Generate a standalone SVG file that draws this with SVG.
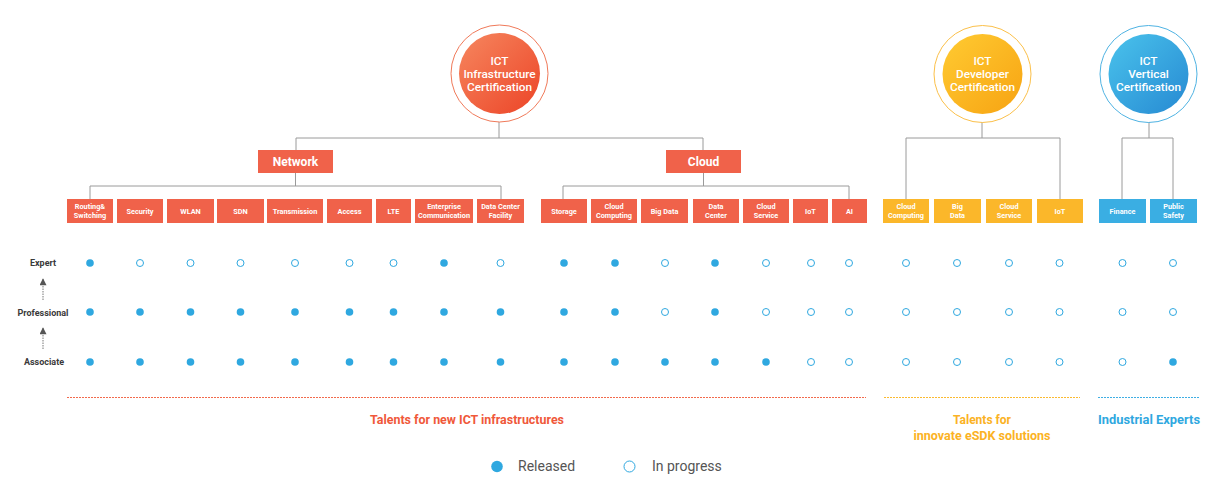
<svg xmlns="http://www.w3.org/2000/svg" width="1212" height="481" viewBox="0 0 1212 481">
<defs>
<linearGradient id="gRed" x1="0" y1="0" x2="1" y2="1"><stop offset="0" stop-color="#F6875F"/><stop offset="1" stop-color="#EC4427"/></linearGradient>
<linearGradient id="gYel" x1="0" y1="0" x2="1" y2="1"><stop offset="0" stop-color="#FFCB32"/><stop offset="1" stop-color="#F7A312"/></linearGradient>
<linearGradient id="gBlu" x1="0" y1="0" x2="1" y2="1"><stop offset="0" stop-color="#4AC3EC"/><stop offset="1" stop-color="#2689D2"/></linearGradient>
<marker id="arr" viewBox="0 0 10 10" refX="9" refY="5" markerWidth="8" markerHeight="7" orient="auto" markerUnits="userSpaceOnUse"><path d="M0,0 L10,5 L0,10 Z" fill="#555"/></marker>
</defs>
<style>
text{font-family:Roboto,"Liberation Sans",sans-serif}
.ct{fill:#fff;font-size:11.8px;font-weight:500;text-anchor:middle}
.bx{fill:#F0624A}
.by{fill:#FBB72A}
.bb{fill:#3AAEE3}
.bt{fill:#fff;font-size:7.3px;font-weight:700;text-anchor:middle}
.gt{fill:#fff;font-size:12px;font-weight:700;text-anchor:middle}
.ln{stroke:#9a9a9a;stroke-width:1;fill:none}
.f{fill:#2FA8E0}
.h{fill:#fff;stroke:#2FA8E0;stroke-width:1}
.rl{fill:#3a3a3a;font-size:9px;font-weight:700;text-anchor:middle}
.lg{fill:#555;font-size:14px}
.dl{stroke-width:1;stroke-dasharray:2 1;fill:none}
</style>
<rect width="1212" height="481" fill="#fff"/>

<g id="connectors" class="ln">
<path d="M499,122 V138 M296,150 V138 H703 V150"/>
<path d="M295.5,173 V186 M90,199 V186 H501 V199"/>
<path d="M703.5,173 V186 M563,199 V186 H849 V199"/>
<path d="M982,122 V138 M906,199 V138 H1060 V199"/>
<path d="M1149,122 V138 M1122,199 V138 H1173 V199"/>
<line x1="43" y1="300" x2="43" y2="279" stroke="#777" stroke-dasharray="1.5 1" marker-end="url(#arr)"/>
<line x1="43" y1="349" x2="43" y2="328" stroke="#777" stroke-dasharray="1.5 1" marker-end="url(#arr)"/>
</g>

<g id="infra">
<circle cx="499.5" cy="73.5" r="48.5" fill="none" stroke="#F07A5A" stroke-width="1"/>
<circle cx="499.5" cy="73.5" r="40.5" fill="url(#gRed)"/>
<text class="ct" x="499.5" y="64.5">ICT</text>
<text class="ct" x="499.5" y="77.5">Infrastructure</text>
<text class="ct" x="499.5" y="90.5">Certification</text>
</g>
<g id="developer">
<circle cx="982.5" cy="74" r="48.5" fill="none" stroke="#FBC04A" stroke-width="1"/>
<circle cx="982.5" cy="74" r="40" fill="url(#gYel)"/>
<text class="ct" x="982.5" y="64.5">ICT</text>
<text class="ct" x="982.5" y="77.5">Developer</text>
<text class="ct" x="982.5" y="90.5">Certification</text>
</g>
<g id="vertical">
<circle cx="1148.5" cy="74" r="48.5" fill="none" stroke="#4FB3E3" stroke-width="1"/>
<circle cx="1148.5" cy="74" r="40" fill="url(#gBlu)"/>
<text class="ct" x="1148.5" y="64.5">ICT</text>
<text class="ct" x="1148.5" y="77.5">Vertical</text>
<text class="ct" x="1148.5" y="90.5">Certification</text>
</g>

<g id="network"><rect class="bx" x="258" y="150" width="75" height="23"/><text class="gt" x="295.5" y="166">Network</text></g>
<g id="cloud"><rect class="bx" x="666" y="150" width="75" height="23"/><text class="gt" x="703.5" y="166">Cloud</text></g>

<g id="n-rs"><rect class="bx" x="67" y="199" width="46" height="24"/><text class="bt" x="90" y="208.5">Routing&amp;</text><text class="bt" x="90" y="217.5">Switching</text></g>
<g id="n-sec"><rect class="bx" x="117" y="199" width="46" height="24"/><text class="bt" x="140" y="213.5">Security</text></g>
<g id="n-wlan"><rect class="bx" x="167" y="199" width="47" height="24"/><text class="bt" x="190.5" y="213.5">WLAN</text></g>
<g id="n-sdn"><rect class="bx" x="217" y="199" width="47" height="24"/><text class="bt" x="240.5" y="213.5">SDN</text></g>
<g id="n-tr"><rect class="bx" x="267" y="199" width="56" height="24"/><text class="bt" x="295" y="213.5">Transmission</text></g>
<g id="n-acc"><rect class="bx" x="327" y="199" width="45" height="24"/><text class="bt" x="349.5" y="213.5">Access</text></g>
<g id="n-lte"><rect class="bx" x="376" y="199" width="35" height="24"/><text class="bt" x="393.5" y="213.5">LTE</text></g>
<g id="n-ent"><rect class="bx" x="415" y="199" width="58" height="24"/><text class="bt" x="444" y="208.5">Enterprise</text><text class="bt" x="444" y="217.5">Communication</text></g>
<g id="n-dcf"><rect class="bx" x="477" y="199" width="47" height="24"/><text class="bt" x="500.5" y="208.5">Data Center</text><text class="bt" x="500.5" y="217.5">Facility</text></g>

<g id="c-sto"><rect class="bx" x="541" y="199" width="46" height="24"/><text class="bt" x="564" y="213.5">Storage</text></g>
<g id="c-cc"><rect class="bx" x="591" y="199" width="46" height="24"/><text class="bt" x="614" y="208.5">Cloud</text><text class="bt" x="614" y="217.5">Computing</text></g>
<g id="c-bd"><rect class="bx" x="641" y="199" width="47" height="24"/><text class="bt" x="664.5" y="213.5">Big Data</text></g>
<g id="c-dc"><rect class="bx" x="693" y="199" width="46" height="24"/><text class="bt" x="716" y="208.5">Data</text><text class="bt" x="716" y="217.5">Center</text></g>
<g id="c-cs"><rect class="bx" x="743" y="199" width="46" height="24"/><text class="bt" x="766" y="208.5">Cloud</text><text class="bt" x="766" y="217.5">Service</text></g>
<g id="c-iot"><rect class="bx" x="793" y="199" width="35" height="24"/><text class="bt" x="810.5" y="213.5">IoT</text></g>
<g id="c-ai"><rect class="bx" x="832" y="199" width="35" height="24"/><text class="bt" x="849.5" y="213.5">AI</text></g>

<g id="d-cc"><rect class="by" x="883" y="199" width="46" height="24"/><text class="bt" x="906" y="208.5">Cloud</text><text class="bt" x="906" y="217.5">Computing</text></g>
<g id="d-bd"><rect class="by" x="934" y="199" width="47" height="24"/><text class="bt" x="957.5" y="208.5">Big</text><text class="bt" x="957.5" y="217.5">Data</text></g>
<g id="d-cs"><rect class="by" x="986" y="199" width="46" height="24"/><text class="bt" x="1009" y="208.5">Cloud</text><text class="bt" x="1009" y="217.5">Service</text></g>
<g id="d-iot"><rect class="by" x="1037" y="199" width="46" height="24"/><text class="bt" x="1060" y="213.5">IoT</text></g>

<g id="v-fin"><rect class="bb" x="1099" y="199" width="47" height="24"/><text class="bt" x="1122.5" y="213.5">Finance</text></g>
<g id="v-ps"><rect class="bb" x="1150" y="199" width="47" height="24"/><text class="bt" x="1173.5" y="208.5">Public</text><text class="bt" x="1173.5" y="217.5">Safety</text></g>

<g id="levels">
<text class="rl" x="43" y="266">Expert</text>
<text class="rl" x="43" y="315.5">Professional</text>
<text class="rl" x="44" y="365">Associate</text>
</g>

<g id="dots">
<circle class="f" cx="90" cy="263" r="3.8"/><circle class="h" cx="140" cy="263" r="3.5"/><circle class="h" cx="190.5" cy="263" r="3.5"/><circle class="h" cx="240.5" cy="263" r="3.5"/><circle class="h" cx="295" cy="263" r="3.5"/><circle class="h" cx="349.5" cy="263" r="3.5"/><circle class="h" cx="393.5" cy="263" r="3.5"/><circle class="f" cx="444" cy="263" r="3.8"/><circle class="h" cx="500.5" cy="263" r="3.5"/>
<circle class="f" cx="564" cy="263" r="3.8"/><circle class="f" cx="615" cy="263" r="3.8"/><circle class="h" cx="665" cy="263" r="3.5"/><circle class="f" cx="715" cy="263" r="3.8"/><circle class="h" cx="766" cy="263" r="3.5"/><circle class="h" cx="811" cy="263" r="3.5"/><circle class="h" cx="849" cy="263" r="3.5"/>
<circle class="h" cx="906" cy="263" r="3.5"/><circle class="h" cx="957" cy="263" r="3.5"/><circle class="h" cx="1009" cy="263" r="3.5"/><circle class="h" cx="1059.5" cy="263" r="3.5"/><circle class="h" cx="1122.5" cy="263" r="3.5"/><circle class="h" cx="1173" cy="263" r="3.5"/>
<circle class="f" cx="90" cy="312" r="3.8"/><circle class="f" cx="140" cy="312" r="3.8"/><circle class="f" cx="190.5" cy="312" r="3.8"/><circle class="f" cx="240.5" cy="312" r="3.8"/><circle class="f" cx="295" cy="312" r="3.8"/><circle class="f" cx="349.5" cy="312" r="3.8"/><circle class="f" cx="393.5" cy="312" r="3.8"/><circle class="f" cx="444" cy="312" r="3.8"/><circle class="f" cx="500.5" cy="312" r="3.8"/>
<circle class="f" cx="564" cy="312" r="3.8"/><circle class="f" cx="615" cy="312" r="3.8"/><circle class="h" cx="665" cy="312" r="3.5"/><circle class="f" cx="715" cy="312" r="3.8"/><circle class="h" cx="766" cy="312" r="3.5"/><circle class="h" cx="811" cy="312" r="3.5"/><circle class="h" cx="849" cy="312" r="3.5"/>
<circle class="h" cx="906" cy="312" r="3.5"/><circle class="h" cx="957" cy="312" r="3.5"/><circle class="h" cx="1009" cy="312" r="3.5"/><circle class="h" cx="1059.5" cy="312" r="3.5"/><circle class="h" cx="1122.5" cy="312" r="3.5"/><circle class="h" cx="1173" cy="312" r="3.5"/>
<circle class="f" cx="90" cy="362" r="3.8"/><circle class="f" cx="140" cy="362" r="3.8"/><circle class="f" cx="190.5" cy="362" r="3.8"/><circle class="f" cx="240.5" cy="362" r="3.8"/><circle class="f" cx="295" cy="362" r="3.8"/><circle class="f" cx="349.5" cy="362" r="3.8"/><circle class="f" cx="393.5" cy="362" r="3.8"/><circle class="f" cx="444" cy="362" r="3.8"/><circle class="f" cx="500.5" cy="362" r="3.8"/>
<circle class="f" cx="564" cy="362" r="3.8"/><circle class="f" cx="615" cy="362" r="3.8"/><circle class="f" cx="665" cy="362" r="3.8"/><circle class="f" cx="715" cy="362" r="3.8"/><circle class="f" cx="766" cy="362" r="3.8"/><circle class="h" cx="811" cy="362" r="3.5"/><circle class="h" cx="849" cy="362" r="3.5"/>
<circle class="h" cx="906" cy="362" r="3.5"/><circle class="h" cx="957" cy="362" r="3.5"/><circle class="h" cx="1009" cy="362" r="3.5"/><circle class="h" cx="1059.5" cy="362" r="3.5"/><circle class="h" cx="1122.5" cy="362" r="3.5"/><circle class="f" cx="1173" cy="362" r="3.8"/>
</g>

<g id="groups">
<line class="dl" x1="67" y1="397.5" x2="866" y2="397.5" stroke="#F26A4C"/>
<line class="dl" x1="884" y1="397.5" x2="1080" y2="397.5" stroke="#FBBA30"/>
<line class="dl" x1="1098" y1="397.5" x2="1200" y2="397.5" stroke="#3FAEE3"/>
<text x="467" y="424" fill="#F0583A" font-size="12" font-weight="700" text-anchor="middle" textLength="194" lengthAdjust="spacingAndGlyphs">Talents for new ICT infrastructures</text>
<text x="982" y="424" fill="#FBB224" font-size="12" font-weight="700" text-anchor="middle">Talents for</text>
<text x="982" y="440" fill="#FBB224" font-size="12" font-weight="700" text-anchor="middle" textLength="137" lengthAdjust="spacingAndGlyphs">innovate eSDK solutions</text>
<text x="1149" y="424" fill="#2FA8E0" font-size="12" font-weight="700" text-anchor="middle" textLength="102" lengthAdjust="spacingAndGlyphs">Industrial Experts</text>
</g>

<g id="legend">
<circle class="f" cx="497" cy="466.5" r="5.8"/>
<text class="lg" x="518" y="471">Released</text>
<circle class="h" cx="629.5" cy="466.5" r="5.5" stroke-width="1.2"/>
<text class="lg" x="652" y="471">In progress</text>
</g>
</svg>
